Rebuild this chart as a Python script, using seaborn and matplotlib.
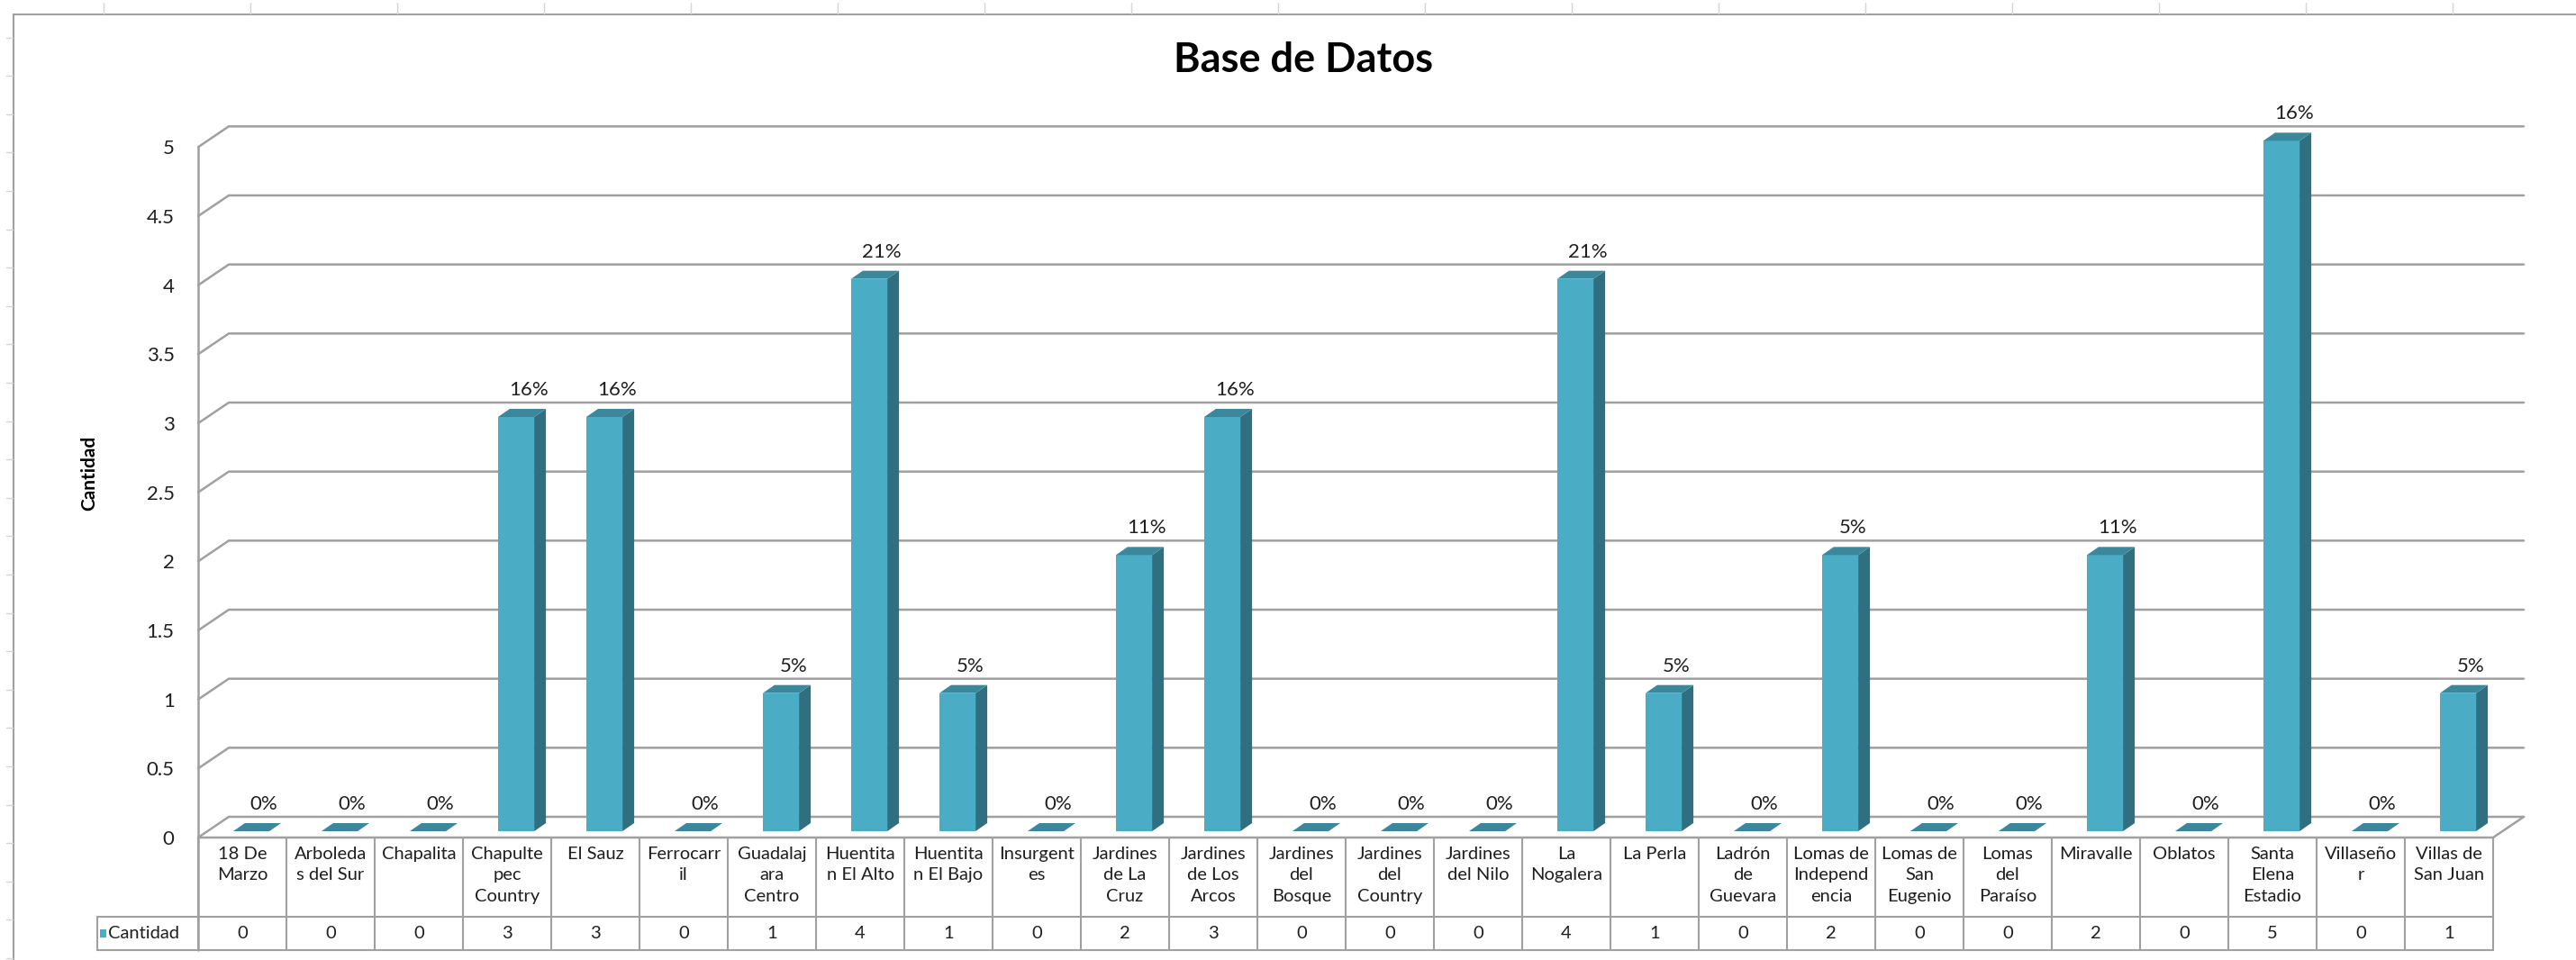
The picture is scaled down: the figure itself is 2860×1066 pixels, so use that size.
import matplotlib
matplotlib.use("Agg")
import matplotlib.pyplot as plt
from matplotlib.patches import Polygon, Rectangle
from matplotlib.lines import Line2D
from matplotlib.transforms import ScaledTranslation
import pandas as pd
import seaborn as sns

# ---- data -------------------------------------------------------------
colonias = ["18 De Marzo", "Arboledas del Sur", "Chapalita", "Chapultepec Country", "El Sauz",
            "Ferrocarril", "Guadalajara Centro", "Huentitan El Alto", "Huentitan El Bajo",
            "Insurgentes", "Jardines de La Cruz", "Jardines de Los Arcos", "Jardines del Bosque",
            "Jardines del Country", "Jardines del Nilo", "La Nogalera", "La Perla",
            "Ladrón de Guevara", "Lomas de Independencia", "Lomas de San Eugenio",
            "Lomas del Paraíso", "Miravalle", "Oblatos", "Santa Elena Estadio", "Villaseñor",
            "Villas de San Juan"]
cantidad = [0, 0, 0, 3, 3, 0, 1, 4, 1, 0, 2, 3, 0, 0, 0, 4, 1, 0, 2, 0, 0, 2, 0, 5, 0, 1]
porcentaje = ["0%", "0%", "0%", "16%", "16%", "0%", "5%", "21%", "5%", "0%", "11%", "16%",
              "0%", "0%", "0%", "21%", "5%", "0%", "5%", "0%", "0%", "11%", "0%", "16%",
              "0%", "5%"]
etiquetas_tabla = ["18 De\nMarzo", "Arboleda\ns del Sur", "Chapalita", "Chapulte\npec\nCountry",
                   "El Sauz", "Ferrocarr\nil", "Guadalaj\nara\nCentro", "Huentita\nn El Alto",
                   "Huentita\nn El Bajo", "Insurgent\nes", "Jardines\nde La\nCruz",
                   "Jardines\nde Los\nArcos", "Jardines\ndel\nBosque", "Jardines\ndel\nCountry",
                   "Jardines\ndel Nilo", "La\nNogalera", "La Perla", "Ladrón\nde\nGuevara",
                   "Lomas de\nIndepend\nencia", "Lomas de\nSan\nEugenio", "Lomas\ndel\nParaíso",
                   "Miravalle", "Oblatos", "Santa\nElena\nEstadio", "Villaseño\nr",
                   "Villas de\nSan Juan"]
y_ticks = [0, 0.5, 1, 1.5, 2, 2.5, 3, 3.5, 4, 4.5, 5]
y_tick_labels = ["0", "0.5", "1", "1.5", "2", "2.5", "3", "3.5", "4", "4.5", "5"]
titulo = "Base de Datos"
serie = "Cantidad"

# ---- style ------------------------------------------------------------
FRONT = "#4bacc6"
TOP = "#3b889c"
SIDE = "#2f6f7f"
GRID = "#a0a0a0"
TEXT = "#1f1f1f"

W, H, DPI = 2860, 1066, 100
sns.set_theme(style="white")
plt.rcParams["font.family"] = ["Lato", "DejaVu Sans"]

fig = plt.figure(figsize=(W / DPI, H / DPI), dpi=DPI)
fig.patch.set_facecolor("white")

# plot area: front plane of the 3-D box, 98 px per category, ~153 px per unit
ax = fig.add_axes([220 / W, 136 / H, 2597 / W, 805 / H])
ax.patch.set_alpha(0)

df = pd.DataFrame({"Colonia": colonias, serie: cantidad})
sns.barplot(data=df, x="Colonia", y=serie, color=FRONT, saturation=1, width=0.41,
            errorbar=None, linewidth=0, zorder=4, ax=ax)

ax.set_xlim(-0.5, 26.0)
ax.set_ylim(0, 5.25)
for s in ax.spines.values():
    s.set_visible(False)
ax.set_xticks(range(len(colonias)))
ax.set_xticklabels([])
ax.set_xlabel("")
ax.set_yticks(y_ticks, y_tick_labels)
ax.tick_params(axis="both", length=0)
ax.tick_params(axis="y", pad=19, labelsize=16, labelcolor=TEXT)
ax.set_ylabel("Cantidad", fontsize=15, fontweight="bold", color="black")
ax.yaxis.set_label_coords(-0.0427, 0.503)
ax.grid(False)

p0 = ax.transData.transform((0, 0))
p1 = ax.transData.transform((1, 1))
UX, UY = p1[0] - p0[0], p1[1] - p0[1]


def dpx(dx, dy):
    return dx / UX, dy / UY


# walls: side-wall diagonals + back-wall gridlines
DX, DY = dpx(34, 23)
n = len(colonias)
for v in y_ticks:
    ax.plot([-0.5, -0.5 + DX, n - 0.5 + DX], [v, v + DY, v + DY], color=GRID, lw=1.8,
            solid_joinstyle="miter", zorder=1, clip_on=False)

# table geometry (below the floor)
_, row1 = dpx(0, -(1018 - 930))
_, row2 = dpx(0, -(1055 - 930))
leg_left = -0.5 - (220 - 108) / UX

# vertical axis line running down through the table, floor edges
ax.plot([-0.5, -0.5], [row2, 5], color=GRID, lw=1.8, zorder=2, clip_on=False)
ax.plot([-0.5, n - 0.5, n - 0.5 + DX], [0, 0, DY], color=GRID, lw=1.8,
        solid_joinstyle="miter", zorder=2, clip_on=False)

# 3-D bars: shift the front faces into the box and add side/top faces
SX, SY = dpx(10, 7)
BX, BY = dpx(13, 9)
shift = ScaledTranslation(10 / DPI, 7 / DPI, fig.dpi_scale_trans)
for bar in ax.patches:
    bar.set_transform(ax.transData + shift)
    bar.set_clip_on(False)
for bar in list(ax.patches):
    x0, w, h = bar.get_x(), bar.get_width(), bar.get_height()
    xr = x0 + w + SX
    side = [(xr, SY), (xr + BX, SY + BY), (xr + BX, h + SY + BY), (xr, h + SY)]
    top = [(x0 + SX, h + SY), (xr, h + SY), (xr + BX, h + SY + BY), (x0 + SX + BX, h + SY + BY)]
    ax.add_patch(Polygon(side, closed=True, facecolor=SIDE, edgecolor="none", zorder=4, clip_on=False))
    ax.add_patch(Polygon(top, closed=True, facecolor=TOP, edgecolor="none", zorder=4, clip_on=False))

# data labels
lx, ly = dpx(24, 37)
for i, (v, lab) in enumerate(zip(cantidad, porcentaje)):
    ax.text(i + lx, v + ly, lab, ha="center", va="center", fontsize=16, color=TEXT,
            zorder=6, clip_on=False)

# data table
for i in range(n + 1):
    ax.plot([i - 0.5, i - 0.5], [0, row2], color=GRID, lw=1.5, zorder=2, clip_on=False)
for yy in (row1, row2):
    ax.plot([leg_left, n - 0.5], [yy, yy], color=GRID, lw=1.5, zorder=2, clip_on=False)
ax.plot([leg_left, leg_left], [row1, row2], color=GRID, lw=1.5, zorder=2, clip_on=False)

_, ttop = dpx(0, -(940 - 930))
_, vmid = dpx(0, -(1036 - 930))
for i, (lab, v) in enumerate(zip(etiquetas_tabla, cantidad)):
    ax.text(i, ttop, lab, ha="center", va="top", multialignment="center", fontsize=14.5,
            linespacing=1.45, color=TEXT, clip_on=False)
    ax.text(i, vmid, str(v), ha="center", va="center", fontsize=14.5, color=TEXT, clip_on=False)

sq_w, sq_h = dpx(7, 9)
ax.add_patch(Rectangle((-0.5 - (220 - 111) / UX, vmid - sq_h / 2), sq_w, sq_h,
                       facecolor=FRONT, edgecolor="none", clip_on=False))
ax.text(-0.5 - (220 - 120) / UX, vmid, serie, ha="left", va="center", fontsize=14.5,
        color=TEXT, clip_on=False)

# title
fig.text(1447 / W, 1 - 67 / H, titulo, ha="center", va="center", fontsize=32.5,
         fontweight="bold", color="black")

# chart frame and the sheet's gridline marks around it
def fig_line(xs, ys, color, lw):
    fig.add_artist(Line2D([x / W for x in xs], [1 - y / H for y in ys], color=color, lw=lw,
                          transform=fig.transFigure))

fig_line([15, W], [16, 16], "#a0a0a0", 1.5)
fig_line([15, 15], [16, H], "#a0a0a0", 1.5)
for k in range(17):
    x = 115 + 163 * k
    fig_line([x, x], [3, 15], "#d6d6d6", 1.0)
for k in range(25):
    y = 41.5 + 42.6 * k
    if y < H:
        fig_line([7, 14], [y, y], "#d6d6d6", 1.0)

fig.savefig("out.png", dpi=DPI, facecolor="white")
